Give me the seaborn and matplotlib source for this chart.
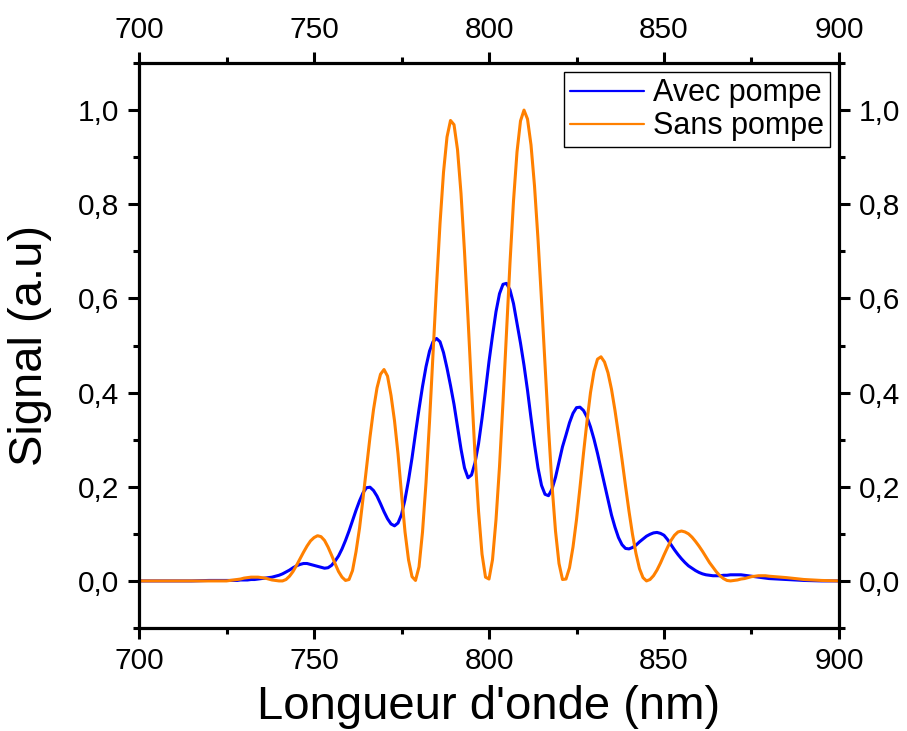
import matplotlib
matplotlib.use("Agg")
import matplotlib.pyplot as plt
from matplotlib.ticker import MultipleLocator, AutoMinorLocator, FuncFormatter
import pandas as pd
import seaborn as sns

# longueurs d'onde echantillonnees (nm)
wavelength = [700, 705, 710, 715, 720] + list(range(725, 881)) + [885, 890, 895, 900]

# signal avec pompe
avec_pompe = [0.000, 0.000, 0.000, 0.000, 0.001,
              0.001, 0.001, 0.001, 0.001, 0.002, 0.002, 0.002, 0.003, 0.003, 0.004,
              0.005, 0.006, 0.007, 0.008, 0.010, 0.012, 0.015, 0.019, 0.023, 0.028,
              0.032, 0.035, 0.037, 0.037, 0.035, 0.033, 0.031, 0.029, 0.027, 0.028,
              0.033, 0.042, 0.053, 0.068, 0.086, 0.106, 0.128, 0.150, 0.170, 0.187,
              0.198, 0.199, 0.192, 0.180, 0.164, 0.147, 0.132, 0.121, 0.117, 0.123,
              0.141, 0.173, 0.214, 0.261, 0.314, 0.365, 0.413, 0.455, 0.488, 0.508,
              0.515, 0.508, 0.485, 0.452, 0.415, 0.375, 0.327, 0.280, 0.240, 0.219,
              0.225, 0.251, 0.291, 0.345, 0.404, 0.466, 0.521, 0.572, 0.610, 0.630,
              0.632, 0.618, 0.589, 0.547, 0.505, 0.458, 0.405, 0.346, 0.290, 0.240,
              0.203, 0.184, 0.181, 0.195, 0.220, 0.252, 0.285, 0.310, 0.336, 0.356,
              0.368, 0.369, 0.362, 0.348, 0.327, 0.301, 0.271, 0.238, 0.204, 0.171,
              0.140, 0.114, 0.092, 0.077, 0.069, 0.068, 0.071, 0.076, 0.083, 0.089,
              0.095, 0.099, 0.102, 0.103, 0.101, 0.097, 0.088, 0.077, 0.066, 0.056,
              0.047, 0.039, 0.032, 0.027, 0.022, 0.018, 0.015, 0.013, 0.012, 0.011,
              0.011, 0.011, 0.012, 0.012, 0.013, 0.013, 0.013, 0.013, 0.012, 0.011,
              0.010, 0.009, 0.008, 0.007, 0.006, 0.005,
              0.003, 0.001, 0.000, 0.000]

# signal sans pompe
sans_pompe = [0.000, 0.000, 0.000, 0.000, 0.000,
              0.000, 0.001, 0.002, 0.003, 0.004, 0.006, 0.007, 0.008, 0.008, 0.008,
              0.007, 0.006, 0.004, 0.002, 0.001, 0.000, 0.000, 0.003, 0.010, 0.020,
              0.033, 0.047, 0.061, 0.074, 0.085, 0.092, 0.096, 0.094, 0.086, 0.072,
              0.055, 0.037, 0.020, 0.008, 0.001, 0.003, 0.022, 0.062, 0.112, 0.175,
              0.241, 0.306, 0.364, 0.410, 0.439, 0.449, 0.435, 0.394, 0.340, 0.270,
              0.185, 0.104, 0.045, 0.009, 0.001, 0.030, 0.104, 0.209, 0.338, 0.482,
              0.626, 0.759, 0.868, 0.943, 0.978, 0.969, 0.916, 0.823, 0.699, 0.558,
              0.410, 0.268, 0.149, 0.057, 0.008, 0.004, 0.045, 0.130, 0.243, 0.380,
              0.530, 0.676, 0.807, 0.911, 0.977, 1.000, 0.981, 0.926, 0.839, 0.726,
              0.596, 0.459, 0.325, 0.204, 0.106, 0.037, 0.003, 0.004, 0.028, 0.072,
              0.130, 0.199, 0.271, 0.339, 0.400, 0.445, 0.471, 0.476, 0.465, 0.442,
              0.407, 0.362, 0.311, 0.258, 0.202, 0.148, 0.099, 0.058, 0.026, 0.007,
              0.000, 0.003, 0.011, 0.023, 0.038, 0.055, 0.071, 0.086, 0.097, 0.104,
              0.106, 0.104, 0.100, 0.093, 0.084, 0.074, 0.063, 0.051, 0.039, 0.029,
              0.019, 0.011, 0.005, 0.001, 0.000, 0.001, 0.002, 0.004, 0.005, 0.007,
              0.009, 0.010, 0.011, 0.011, 0.011, 0.010,
              0.007, 0.003, 0.001, 0.000]

series_labels = ["Avec pompe", "Sans pompe"]
colors = {"Avec pompe": "#0000ff", "Sans pompe": "#ff8000"}

df = pd.concat([
    pd.DataFrame({"wl": wavelength, "signal": avec_pompe, "serie": series_labels[0]}),
    pd.DataFrame({"wl": wavelength, "signal": sans_pompe, "serie": series_labels[1]}),
])

sns.set_style("ticks")
plt.rcParams["font.family"] = ["Liberation Sans", "DejaVu Sans"]
plt.rcParams["text.color"] = "black"
plt.rcParams["axes.labelcolor"] = "black"
plt.rcParams["xtick.color"] = "black"
plt.rcParams["ytick.color"] = "black"

fig, ax = plt.subplots(figsize=(9.07, 7.31), dpi=100)
fig.subplots_adjust(left=0.1533, right=0.925, bottom=0.1409, top=0.9138)

sns.lineplot(data=df, x="wl", y="signal", hue="serie", hue_order=series_labels,
             palette=colors, linewidth=2.2, ax=ax)

ax.set_xlim(700, 900)
ax.set_ylim(-0.1, 1.1)
ax.xaxis.set_major_locator(MultipleLocator(50))
ax.xaxis.set_minor_locator(AutoMinorLocator(2))
ax.yaxis.set_major_locator(MultipleLocator(0.2))
ax.yaxis.set_minor_locator(AutoMinorLocator(2))
ax.yaxis.set_major_formatter(FuncFormatter(lambda v, p: ("%.1f" % abs(v) if abs(v) < 1e-9 else "%.1f" % v).replace(".", ",")))

for side in ["left", "right", "top", "bottom"]:
    ax.spines[side].set_visible(True)
    ax.spines[side].set_linewidth(2.3)
    ax.spines[side].set_color("black")

ax.tick_params(which="both", direction="out", top=True, right=True,
               labeltop=True, labelright=True, width=2.2, color="black",
               labelcolor="black")
ax.tick_params(which="major", length=8, pad=6, labelsize=21.5)
ax.tick_params(which="minor", length=4.5)

ax.set_xlabel("Longueur d'onde (nm)", fontsize=34, color="black")
ax.set_ylabel("Signal (a.u)", fontsize=34, color="black")
ax.xaxis.set_label_coords(0.5, -0.1)
ax.yaxis.set_label_coords(-0.124, 0.5)

handles, labels = ax.get_legend_handles_labels()
leg = ax.legend(handles, labels, loc="upper right", fontsize=22, frameon=True,
                fancybox=False, edgecolor="black", framealpha=1,
                handlelength=2.4, handletextpad=0.3, borderpad=0.2,
                labelspacing=0.1, borderaxespad=0.3)
leg.get_frame().set_linewidth(1.0)
for line in leg.get_lines():
    line.set_linewidth(1.6)
for text in leg.get_texts():
    text.set_color("black")

fig.savefig("out.png", dpi=100)
